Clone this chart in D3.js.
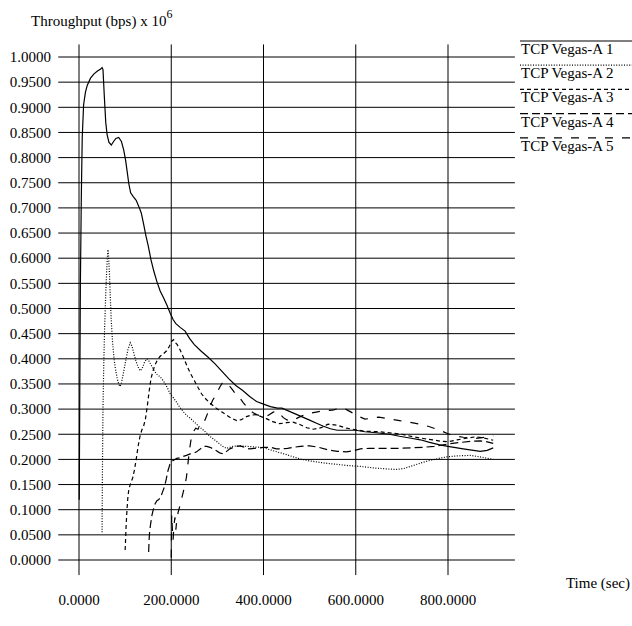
<!DOCTYPE html>
<html>
<head>
<meta charset="utf-8">
<script src="https://cdn.jsdelivr.net/npm/d3@7"></script>
<style>
  body { margin: 0; background: #fff; }
  text { font-family: "Liberation Serif", "Times New Roman", serif; font-size: 15px; fill: #000; }
</style>
</head>
<body>
<svg></svg>
<script>
var width = 632, height = 626;

// series: [time (sec), throughput (x 10^6 bps)]
var names = ["TCP Vegas-A 1", "TCP Vegas-A 2", "TCP Vegas-A 3", "TCP Vegas-A 4", "TCP Vegas-A 5"];

var flow1 = [[0.5,0.12],[1.5,0.3],[3,0.55],[5,0.72],[7,0.84],[10,0.905],[14,0.93],[18,0.944],[25,0.958],[32,0.966],[40,0.972],[47,0.976],[50,0.979],[52,0.975],[55,0.92],[58,0.87],[61,0.845],[65,0.83],[70,0.825],[75,0.832],[80,0.838],[86,0.84],[92,0.832],[97,0.815],[101,0.795],[104,0.775],[108,0.748],[112,0.73],[118,0.722],[124,0.715],[130,0.702],[135,0.69],[140,0.668],[145,0.645],[150,0.625],[156,0.597],[162,0.575],[169,0.553],[176,0.535],[183,0.522],[190,0.508],[198,0.49],[204,0.478],[210,0.47],[220,0.462],[230,0.455],[240,0.44],[250,0.428],[265,0.415],[280,0.403],[295,0.39],[310,0.375],[325,0.36],[340,0.347],[355,0.337],[370,0.325],[385,0.315],[400,0.31],[415,0.305],[430,0.302],[440,0.302],[455,0.296],[470,0.29],[485,0.284],[500,0.278],[515,0.272],[530,0.266],[545,0.261],[560,0.258],[580,0.258],[600,0.258],[620,0.255],[645,0.253],[673,0.25],[695,0.246],[720,0.242],[740,0.239],[760,0.234],[782,0.229],[800,0.226],[833,0.221],[855,0.218],[870,0.216],[885,0.218],[898,0.223]];

var flow2 = [[50,0.055],[50.3,0.1],[50.6,0.15],[51,0.2],[52,0.3],[53.5,0.38],[55.5,0.46],[58,0.53],[60.5,0.585],[62,0.61],[63,0.617],[64,0.605],[66,0.57],[68,0.52],[70,0.475],[73,0.43],[76,0.4],[79,0.38],[83,0.36],[86,0.35],[89,0.345],[92,0.352],[96,0.37],[101,0.395],[106,0.418],[111,0.432],[115,0.425],[119,0.41],[124,0.394],[129,0.382],[133,0.376],[137,0.381],[142,0.393],[147,0.4],[152,0.395],[158,0.385],[164,0.375],[169,0.369],[176,0.364],[183,0.356],[190,0.345],[198,0.33],[205,0.322],[212,0.313],[219,0.303],[227,0.294],[234,0.287],[241,0.282],[248,0.276],[255,0.27],[262,0.264],[270,0.258],[277,0.252],[285,0.245],[292,0.24],[298,0.236],[306,0.23],[313,0.225],[320,0.222],[334,0.226],[348,0.227],[363,0.226],[378,0.225],[392,0.224],[400,0.223],[415,0.219],[429,0.215],[445,0.211],[458,0.207],[479,0.201],[500,0.197],[530,0.193],[560,0.19],[580,0.188],[610,0.186],[640,0.183],[670,0.181],[688,0.18],[705,0.182],[725,0.188],[745,0.194],[761,0.198],[780,0.202],[797,0.205],[820,0.207],[848,0.208],[870,0.205],[898,0.2]];

var flow3 = [[100,0.02],[101,0.04],[102,0.065],[104,0.1],[106,0.125],[108,0.14],[112,0.153],[116,0.162],[120,0.178],[124,0.2],[128,0.225],[132,0.245],[136,0.258],[140,0.266],[144,0.28],[148,0.305],[152,0.335],[156,0.36],[160,0.375],[165,0.388],[170,0.398],[176,0.405],[183,0.41],[190,0.416],[196,0.425],[201,0.435],[205,0.438],[209,0.432],[213,0.428],[218,0.42],[224,0.408],[230,0.395],[236,0.382],[242,0.37],[250,0.357],[258,0.343],[266,0.33],[275,0.32],[284,0.312],[292,0.306],[300,0.3],[310,0.294],[320,0.288],[330,0.282],[342,0.277],[352,0.279],[363,0.285],[373,0.288],[385,0.289],[395,0.285],[406,0.281],[420,0.275],[435,0.271],[450,0.273],[464,0.274],[480,0.269],[494,0.263],[508,0.26],[525,0.263],[540,0.27],[560,0.268],[580,0.262],[600,0.259],[620,0.256],[650,0.255],[680,0.252],[700,0.25],[724,0.245],[750,0.241],[767,0.239],[785,0.236],[800,0.235],[820,0.239],[840,0.242],[860,0.245],[875,0.243],[890,0.24],[898,0.238]];

var flow4 = [[151,0.016],[152,0.04],[153,0.055],[155,0.07],[158,0.088],[161,0.1],[165,0.112],[169,0.118],[173,0.12],[177,0.125],[181,0.135],[185,0.145],[189,0.16],[193,0.178],[197,0.19],[201,0.196],[206,0.199],[212,0.202],[218,0.203],[226,0.206],[233,0.208],[241,0.211],[248,0.212],[255,0.215],[262,0.22],[270,0.226],[277,0.226],[284,0.224],[291,0.221],[298,0.217],[305,0.213],[313,0.211],[320,0.216],[327,0.221],[335,0.224],[342,0.226],[349,0.227],[356,0.225],[363,0.222],[370,0.221],[380,0.222],[392,0.223],[400,0.224],[415,0.224],[428,0.221],[440,0.221],[452,0.222],[464,0.224],[480,0.226],[500,0.227],[520,0.224],[540,0.219],[560,0.216],[580,0.215],[595,0.217],[610,0.221],[630,0.222],[660,0.222],[690,0.222],[720,0.223],[746,0.224],[770,0.226],[790,0.229],[810,0.232],[830,0.234],[850,0.236],[870,0.237],[885,0.235],[898,0.232]];

var flow5 = [[200,0.005],[200.5,0.05],[201,0.09],[202.5,0.06],[204,0.04],[206,0.07],[208,0.085],[210,0.06],[212,0.08],[215,0.095],[218,0.105],[222,0.12],[226,0.135],[230,0.15],[233,0.165],[236,0.19],[239,0.215],[243,0.24],[248,0.255],[253,0.262],[258,0.26],[262,0.268],[267,0.27],[273,0.278],[279,0.292],[284,0.305],[290,0.318],[295,0.325],[301,0.336],[306,0.345],[311,0.352],[316,0.354],[321,0.35],[327,0.345],[333,0.338],[338,0.332],[344,0.326],[349,0.322],[356,0.313],[363,0.305],[370,0.298],[377,0.293],[385,0.289],[392,0.287],[400,0.285],[406,0.285],[414,0.29],[421,0.294],[429,0.296],[436,0.29],[443,0.283],[450,0.279],[458,0.276],[466,0.278],[475,0.283],[485,0.287],[495,0.29],[508,0.293],[520,0.295],[535,0.297],[550,0.298],[566,0.302],[578,0.3],[590,0.294],[605,0.286],[620,0.28],[635,0.282],[650,0.284],[670,0.281],[695,0.277],[715,0.274],[740,0.27],[760,0.265],[782,0.258],[800,0.251],[815,0.247],[833,0.244],[850,0.243],[861,0.242],[880,0.244],[898,0.247]];

var xTicks = [0, 200, 400, 600, 800];
var yTicks = d3.range(0, 21).map(function(i) { return i * 0.05; });

var flows = [flow1, flow2, flow3, flow4, flow5];
var dashes = ["none", "1,1.6", "4,3", "8,4", "8,9"];

// scales
var x = d3.scaleLinear().domain([0, 800]).range([79, 448]);
var y = d3.scaleLinear().domain([0, 1]).range([560, 57]);

var svg = d3.select("svg")
    .attr("width", width)
    .attr("height", height);

// grid: horizontal lines run a bit past the data area on both sides
var grid = svg.append("g").attr("stroke", "#000").attr("stroke-width", 1);

grid.selectAll(".hgrid")
    .data(yTicks)
  .enter().append("line")
    .attr("class", "hgrid")
    .attr("x1", x(-45))
    .attr("x2", x(945))
    .attr("y1", function(d) { return y(d); })
    .attr("y2", function(d) { return y(d); });

grid.selectAll(".vgrid")
    .data(xTicks)
  .enter().append("line")
    .attr("class", "vgrid")
    .attr("x1", function(d) { return x(d); })
    .attr("x2", function(d) { return x(d); })
    .attr("y1", y(1.025))
    .attr("y2", y(-0.03));

// tick labels
svg.selectAll(".ylab")
    .data(yTicks)
  .enter().append("text")
    .attr("class", "ylab")
    .attr("x", 51)
    .attr("y", function(d) { return y(d); })
    .attr("dy", "0.35em")
    .style("text-anchor", "end")
    .text(function(d) { return d.toFixed(4); });

svg.selectAll(".xlab")
    .data(xTicks)
  .enter().append("text")
    .attr("class", "xlab")
    .attr("x", function(d) { return x(d); })
    .attr("y", 605)
    .style("text-anchor", "middle")
    .text(function(d) { return d.toFixed(4); });

// axis titles
var yTitle = svg.append("text")
    .attr("x", 31)
    .attr("y", 26)
    .text("Throughput (bps) x 10");
yTitle.append("tspan")
    .attr("dy", -8)
    .style("font-size", "12px")
    .text("6");

svg.append("text")
    .attr("x", 630)
    .attr("y", 588)
    .style("text-anchor", "end")
    .text("Time (sec)");

// the five flows
var line = d3.line()
    .x(function(d) { return x(d[0]); })
    .y(function(d) { return y(d[1]); });

svg.selectAll(".flow")
    .data(flows)
  .enter().append("path")
    .attr("class", "flow")
    .attr("fill", "none")
    .attr("stroke", "#000")
    .attr("stroke-width", 1.2)
    .attr("stroke-dasharray", function(d, i) { return dashes[i]; })
    .attr("d", line);

// legend, top right: a line above each name
var legend = svg.selectAll(".legend")
    .data(names)
  .enter().append("g")
    .attr("class", "legend")
    .attr("transform", function(d, i) { return "translate(520," + (41 + i * 24.2) + ")"; });

legend.append("line")
    .attr("x1", 0)
    .attr("x2", 112)
    .attr("stroke", "#000")
    .attr("stroke-width", 1.2)
    .attr("stroke-dasharray", function(d, i) { return dashes[i]; });

legend.append("text")
    .attr("x", 1)
    .attr("y", 13)
    .text(function(d) { return d; });
</script>
</body>
</html>
